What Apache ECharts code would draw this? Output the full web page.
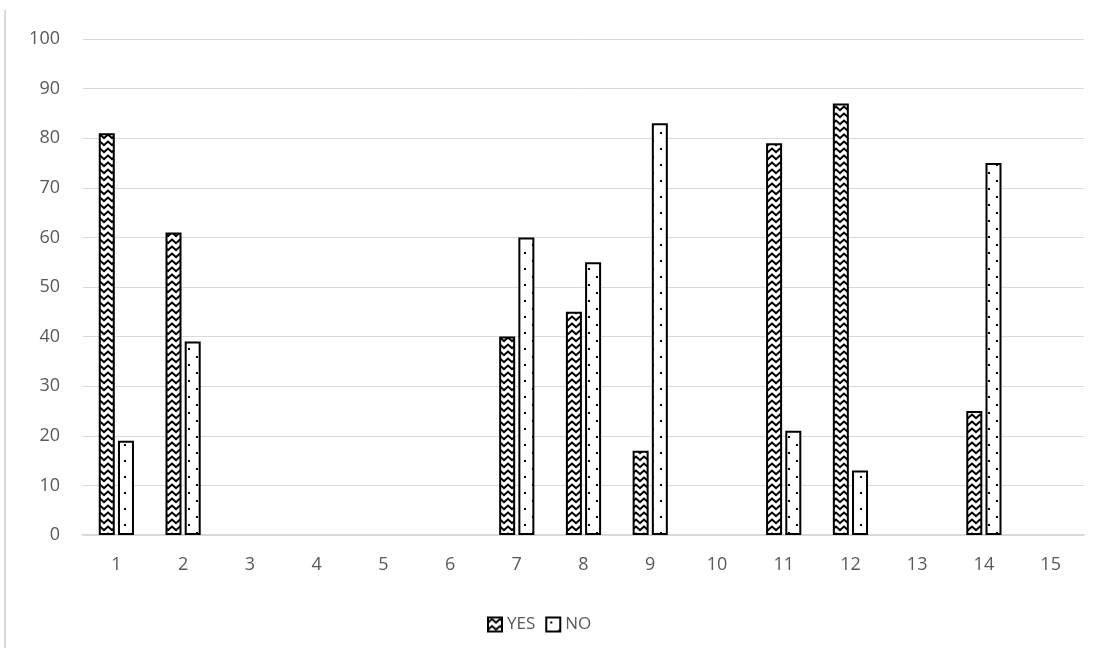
<!DOCTYPE html>
<html>
<head>
<meta charset="utf-8">
<script src="https://cdn.jsdelivr.net/npm/echarts@6/dist/echarts.min.js"></script>
<style>
  html, body { margin: 0; padding: 0; background: #fff; }
  #chart { width: 1113px; height: 650px; }
</style>
</head>
<body>
<div id="chart"></div>
<script>
// data
var categories = ["1", "2", "3", "4", "5", "6", "7", "8", "9", "10", "11", "12", "13", "14", "15"];
var yesValues = [81, 61, null, null, null, null, 40, 45, 17, null, 79, 87, null, 25, null];
var noValues = [19, 39, null, null, null, null, 60, 55, 83, null, 21, 13, null, 75, null];

// chevron fill for YES
function zigzagPattern() {
  var c = document.createElement("canvas");
  c.width = 8;
  c.height = 7;
  var ctx = c.getContext("2d");
  ctx.fillStyle = "#fff";
  ctx.fillRect(0, 0, 8, 7);
  ctx.strokeStyle = "#000";
  ctx.lineWidth = 2;
  ctx.beginPath();
  ctx.moveTo(-1, 6);
  ctx.lineTo(4, 1.5);
  ctx.lineTo(9, 6);
  ctx.stroke();
  return c;
}

// sparse dots for NO
function dotPattern() {
  var c = document.createElement("canvas");
  c.width = 16;
  c.height = 16;
  var ctx = c.getContext("2d");
  ctx.fillStyle = "#fff";
  ctx.fillRect(0, 0, 16, 16);
  ctx.fillStyle = "#000";
  ctx.fillRect(4, 4, 2, 2);
  ctx.fillRect(12, 12, 2, 2);
  return c;
}

var chart = echarts.init(document.getElementById("chart"));
var textColor = "#595959";
var fontFamily = "'Open Sans', Lato, sans-serif";

chart.setOption({
  backgroundColor: "#fff",
  animation: false,
  graphic: [{
    type: "line",
    shape: { x1: 5, y1: 10, x2: 5, y2: 648 },
    style: { stroke: "#d9d9d9", lineWidth: 2 }
  }],
  grid: {
    left: 83,
    right: 29,
    top: 39,
    bottom: 115
  },
  legend: {
    top: 611,
    left: 482,
    icon: "rect",
    itemWidth: 14,
    itemHeight: 14,
    itemGap: 10,
    textStyle: { color: textColor, fontSize: 17, fontFamily: fontFamily },
    data: ["YES", "NO"]
  },
  xAxis: {
    type: "category",
    data: categories,
    axisLine: { lineStyle: { color: "#d9d9d9", width: 2 } },
    axisTick: { show: false },
    axisLabel: { color: textColor, fontSize: 18, fontFamily: fontFamily, margin: 21 }
  },
  yAxis: {
    type: "value",
    min: 0,
    max: 100,
    interval: 10,
    axisLine: { show: false },
    axisTick: { show: false },
    axisLabel: { color: textColor, fontSize: 18, fontFamily: fontFamily, margin: 23 },
    splitLine: { lineStyle: { color: "#d9d9d9", width: 1 } }
  },
  series: [
    {
      name: "YES",
      type: "bar",
      data: yesValues,
      barWidth: 16,
      barGap: "20%",
      itemStyle: {
        color: { image: zigzagPattern(), repeat: "repeat" },
        borderColor: "#000",
        borderWidth: 2
      }
    },
    {
      name: "NO",
      type: "bar",
      data: noValues,
      barWidth: 16,
      itemStyle: {
        color: { image: dotPattern(), repeat: "repeat" },
        borderColor: "#000",
        borderWidth: 2
      }
    }
  ]
});
</script>
</body>
</html>
